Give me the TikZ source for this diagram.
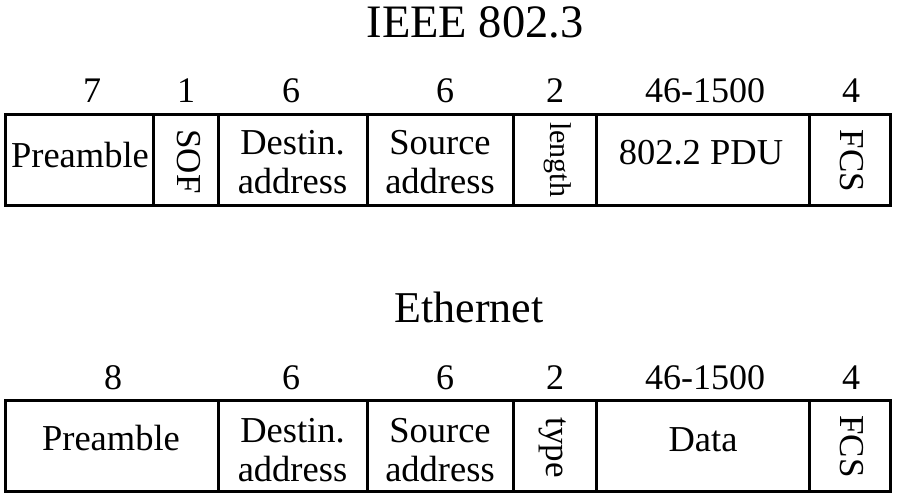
\documentclass[tikz,border=0pt]{standalone}
\usepackage{fontspec}
\setmainfont{Liberation Serif}
\begin{document}
\begin{tikzpicture}[x=1pt,y=-1pt,
  fieldbox/.style={draw,line width=3pt,inner sep=0pt,minimum height=91pt},
  fieldtxt/.style={inner sep=0pt,font=\fontsize{36.5}{38.5}\selectfont,align=center},
  vtxt/.style={inner sep=0pt,font=\fontsize{35}{37}\selectfont,rotate=-90},
  numtxt/.style={inner sep=0pt,font=\fontsize{36}{38}\selectfont,anchor=base},
  titletxt/.style={inner sep=0pt,anchor=base}]
\useasboundingbox (0,0) rectangle (897,502);
% titles
\node[titletxt,font=\fontsize{46.5}{48}\selectfont] (t1) at (475,38) {IEEE 802.3};
\node[titletxt,font=\fontsize{44}{46}\selectfont] (t2) at (469,323) {Ethernet};
% IEEE 802.3 frame
\node[fieldbox,minimum width=148pt] (a1) at (79,160.5) {};
\node[fieldbox,minimum width=65pt] (a2) at (185.5,160.5) {};
\node[fieldbox,minimum width=149pt] (a3) at (292.5,160.5) {};
\node[fieldbox,minimum width=146pt] (a4) at (440,160.5) {};
\node[fieldbox,minimum width=83pt] (a5) at (554.5,160.5) {};
\node[fieldbox,minimum width=213pt] (a6) at (702.5,160.5) {};
\node[fieldbox,minimum width=81pt] (a7) at (849.5,160.5) {};
\node[fieldtxt,anchor=base] (ta1) at (80,168) {Preamble};
\node[vtxt] (ta2) at (188.5,161.5) {SOF};
\node[fieldtxt] (ta3) at (292.5,162) {Destin.\\address};
\node[fieldtxt] (ta4) at (440,162) {Source\\address};
\node[vtxt,font=\fontsize{30}{32}\selectfont] (ta5) at (557.5,159.5) {length};
\node[fieldtxt,anchor=base] (ta6) at (701,165) {802.2 PDU};
\node[vtxt] (ta7) at (851.5,161) {FCS};
\node[numtxt] (na1) at (92,103) {7};
\node[numtxt] (na2) at (186,103) {1};
\node[numtxt] (na3) at (291,103) {6};
\node[numtxt] (na4) at (445,103) {6};
\node[numtxt] (na5) at (555,103) {2};
\node[numtxt] (na6) at (705,103) {46-1500};
\node[numtxt] (na7) at (851,103) {4};
% Ethernet frame
\node[fieldbox,minimum width=213pt] (b1) at (111.5,446) {};
\node[fieldbox,minimum width=149pt] (b3) at (292.5,446) {};
\node[fieldbox,minimum width=146pt] (b4) at (440,446) {};
\node[fieldbox,minimum width=83pt] (b5) at (554.5,446) {};
\node[fieldbox,minimum width=213pt] (b6) at (702.5,446) {};
\node[fieldbox,minimum width=81pt] (b7) at (849.5,446) {};
\node[fieldtxt,anchor=base] (tb1) at (111,450) {Preamble};
\node[fieldtxt] (tb3) at (292.5,450) {Destin.\\address};
\node[fieldtxt] (tb4) at (440,450) {Source\\address};
\node[vtxt] (tb5) at (552.5,447.5) {type};
\node[fieldtxt,anchor=base] (tb6) at (703,451) {Data};
\node[vtxt] (tb7) at (851.5,446.5) {FCS};
\node[numtxt] (nb1) at (113,390) {8};
\node[numtxt] (nb3) at (291,390) {6};
\node[numtxt] (nb4) at (445,390) {6};
\node[numtxt] (nb5) at (555,390) {2};
\node[numtxt] (nb6) at (705,390) {46-1500};
\node[numtxt] (nb7) at (851,390) {4};
\end{tikzpicture}
\end{document}
